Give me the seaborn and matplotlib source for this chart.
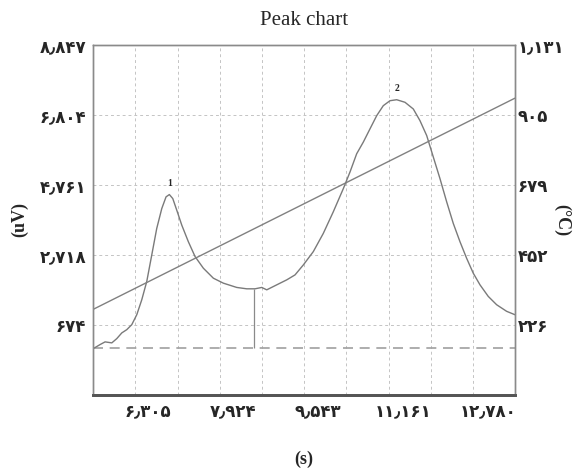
import numpy as np
import pandas as pd
import matplotlib
matplotlib.use('Agg')
import matplotlib.pyplot as plt
from matplotlib.ticker import FixedLocator
import seaborn as sns

# detector signal
time_s = [5265, 5392, 5487, 5615, 5710, 5805, 5900, 5995, 6090, 6185,
          6280, 6375, 6470, 6566, 6647, 6710, 6775, 6851, 6946, 7071,
          7199, 7357, 7547, 7737, 7992, 8182, 8340, 8468, 8563, 8753,
          8943, 9101, 9259, 9449, 9639, 9829, 10020, 10147, 10274, 10400,
          10527, 10655, 10780, 10908, 11035, 11193, 11351, 11478, 11606, 11732,
          11859, 11986, 12112, 12239, 12366, 12492, 12620, 12777, 12937, 13127,
          13285]
signal_uv = [-14, 102, 180, 151, 276, 442, 537, 683, 973, 1409,
             1943, 2716, 3492, 4073, 4413, 4480, 4363, 4023, 3588, 3105,
             2670, 2330, 2039, 1894, 1769, 1729, 1729, 1769, 1699, 1845,
             1990, 2135, 2426, 2815, 3347, 3977, 4654, 5139, 5671, 6011,
             6397, 6783, 7074, 7219, 7248, 7173, 6978, 6638, 6202, 5575,
             4944, 4268, 3637, 3105, 2620, 2185, 1845, 1508, 1264, 1072,
             973]

# oven temperature ramp
temp_time_s = [5265, 13285]
temp_c = [277, 959]

peak_names = ['1', '2']
x_ticks = [6305, 7924, 9543, 11161, 12780]
uv_ticks = [674, 2718, 4761, 6804, 8847]
temp_ticks = [226, 452, 679, 905, 1131]
split_time = 8320
split_uv = 1729
baseline_uv = 0


def fa(v):
    s = f'{v:,}'
    return s.translate(str.maketrans('0123456789,', '۰۱۲۳۴۵۶۷۸۹٫'))


sns.set_style('white')
plt.rcParams['font.family'] = ['DejaVu Sans']

fig = plt.figure(figsize=(5.75, 4.73), dpi=100)
ax = fig.add_axes([0.162, 0.165, 0.734, 0.74])

df = pd.DataFrame({'time': time_s, 'uv': signal_uv})
sns.lineplot(data=df, x='time', y='uv', color='#7a7a7a', lw=1.0, ax=ax)

xmin, xmax = 5260, 13290
ymin, ymax = -1369, 8847
ax.set_xlim(xmin, xmax)
ax.set_ylim(ymin, ymax)

# baseline and split line
ax.axhline(baseline_uv, color='#a0a0a0', ls=(0, (6, 4)), lw=1.2, zorder=1)
ax.vlines(split_time, baseline_uv, split_uv, color='#8a8a8a', lw=0.9)

# grid
ax.xaxis.set_minor_locator(FixedLocator(np.linspace(xmin, xmax, 11)[1:-1]))
ax.grid(False)
ax.grid(True, which='minor', axis='x', color='#c4c4c4', ls=(0, (3, 3)), lw=0.7)
ax.set_yticks(uv_ticks)
ax.grid(True, which='major', axis='y', color='#c4c4c4', ls=(0, (3, 3)), lw=0.7)

ax.set_xticks(x_ticks)
ax.set_xticklabels([fa(v) for v in x_ticks], fontsize=12, fontweight='bold')
ax.set_yticklabels([fa(v) for v in uv_ticks], fontsize=12, fontweight='bold')
ax.tick_params(axis='both', which='both', length=0, pad=5)

# peak numbers
sig = np.array(signal_uv)
t_arr = np.array(time_s)
for name, mask in zip(peak_names, [t_arr < 8000, t_arr > 9000]):
    i = np.flatnonzero(mask)[np.argmax(sig[mask])]
    ax.annotate(name, (t_arr[i], sig[i]), xytext=(0, 6), textcoords='offset points',
                ha='center', fontsize=7, family='Liberation Serif', fontweight='bold')

ax.set_xlabel('(s)', fontsize=13, family='Liberation Serif', fontweight='bold', labelpad=22)
ax.set_ylabel('(uV)', fontsize=13, family='Liberation Serif', fontweight='bold', labelpad=8)
ax.set_title('Peak chart', fontsize=15, family='Liberation Serif', pad=14)

# temperature axis
ax2 = ax.twinx()
tf = pd.DataFrame({'time': temp_time_s, 'temp': temp_c})
sns.lineplot(data=tf, x='time', y='temp', color='#808080', lw=1.0, ax=ax2)
ax2.set_ylim(0, 1131)
ax2.set_yticks(temp_ticks)
ax2.set_yticklabels([fa(v) for v in temp_ticks], fontsize=12, fontweight='bold')
ax2.tick_params(axis='y', length=0, pad=2)
ax2.set_ylabel('(°C)', fontsize=13, family='Liberation Serif', fontweight='bold',
               rotation=270, ha='center', va='center')
ax2.yaxis.set_label_coords(1.11, 0.5)
ax2.grid(False)

for a in (ax, ax2):
    for side in ('left', 'right', 'top'):
        a.spines[side].set_color('#8a8a8a')
        a.spines[side].set_linewidth(1.0)
    a.spines['bottom'].set_color('#555555')
    a.spines['bottom'].set_linewidth(2.0)

fig.savefig('out.png', dpi=100)
